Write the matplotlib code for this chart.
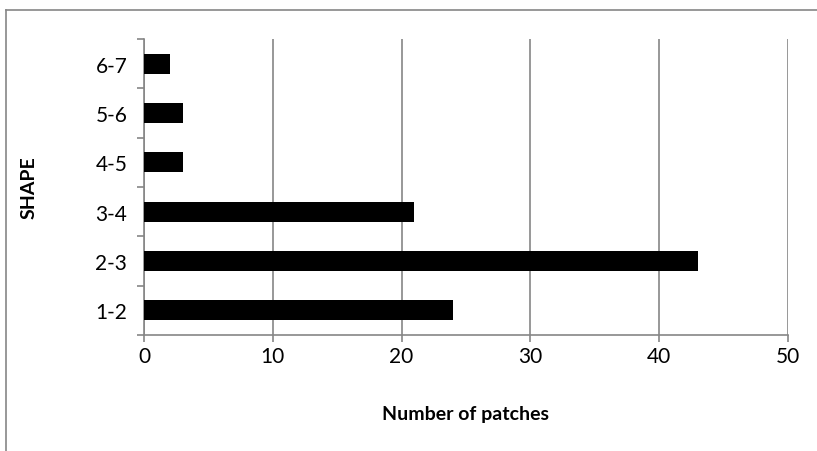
import numpy as np
import matplotlib
matplotlib.use('Agg')
import matplotlib.pyplot as plt
from matplotlib.lines import Line2D

categories = ['1-2', '2-3', '3-4', '4-5', '5-6', '6-7']
patches = [24, 43, 21, 3, 3, 2]
xticks = [0, 10, 20, 30, 40, 50]

plt.rcParams['font.family'] = ['Lato', 'DejaVu Sans']
grey = '#868686'

fig = plt.figure(figsize=(8.17, 4.52), dpi=100)
ax = fig.add_axes([144/817, 1-336/452, 644/817, 296/452])

y = np.arange(len(categories))
ax.barh(y, patches, height=0.4, color='black', zorder=3)

ax.set_xlim(0, 50)
ax.set_ylim(-0.5, len(categories) - 0.5)
ax.set_xticks(xticks)
ax.set_xticklabels([str(t) for t in xticks], fontsize=15)
ax.set_yticks(y)
ax.set_yticklabels(categories, fontsize=15)
ax.set_yticks(np.arange(-0.5, len(categories)), minor=True)
ax.tick_params(axis='y', which='major', length=0, pad=12)
ax.tick_params(axis='y', which='minor', length=5, color=grey, width=1.2)
ax.tick_params(axis='x', length=5, color=grey, width=1.2, pad=3)

ax.grid(axis='x', color=grey, linewidth=1.2, zorder=0)
for s in ['top', 'right']:
    ax.spines[s].set_visible(False)
for s in ['left', 'bottom']:
    ax.spines[s].set_color(grey)
    ax.spines[s].set_linewidth(1.2)

ax.set_xlabel('Number of patches', fontsize=14, fontweight='bold', labelpad=28)
ax.set_ylabel('SHAPE', fontsize=14, fontweight='bold', labelpad=42)

# outer chart border (only top and left visible in the crop)
fig.add_artist(Line2D([6/817, 6/817], [0, 1-11/452], transform=fig.transFigure, color=grey, linewidth=1.2))
fig.add_artist(Line2D([6/817, 1], [1-11/452, 1-11/452], transform=fig.transFigure, color=grey, linewidth=1.2))

fig.savefig('out.png', dpi=100)
